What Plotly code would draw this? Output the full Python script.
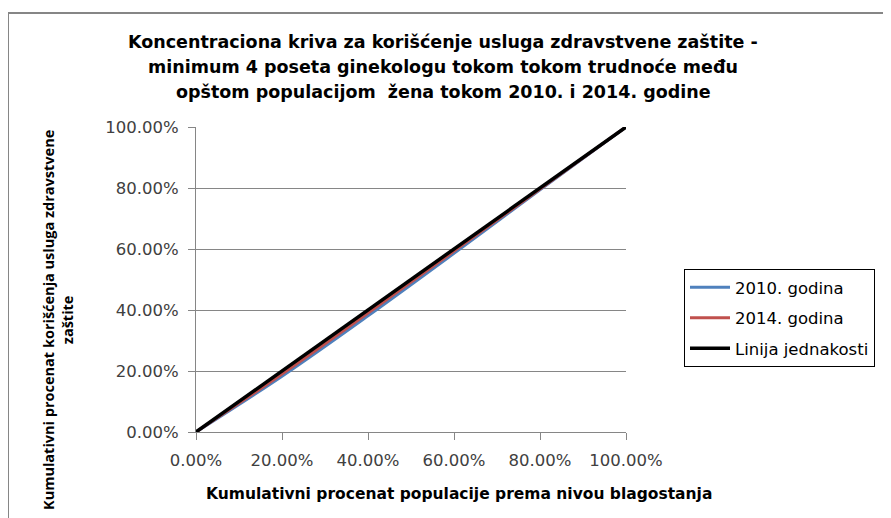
import plotly.graph_objects as go

# Data
populacija = [0.0, 0.2, 0.4, 0.6, 0.8, 1.0]
godina_2010 = [0.0, 0.183, 0.381, 0.586, 0.794, 1.0]
godina_2014 = [0.0, 0.190, 0.390, 0.593, 0.797, 1.0]
jednakost = [0.0, 0.2, 0.4, 0.6, 0.8, 1.0]
tick_vals = [0.0, 0.2, 0.4, 0.6, 0.8, 1.0]
tick_text = ["0.00%", "20.00%", "40.00%", "60.00%", "80.00%", "100.00%"]

W, H = 891, 518
OFF = 8  # page body margin
RL, RR, RT, RB = 196, 626, 127, 432  # plot area in reference pixels


def px(x):
    return (x - RL) / (RR - RL)


def py(y):
    return (RB - y) / (RB - RT)


TICKFONT = "'DejaVu Sans', sans-serif"
BOLDFONT = "'DejaVu Sans', sans-serif"

fig = go.Figure()
fig.add_trace(go.Scatter(x=populacija, y=godina_2010, mode="lines", name="2010. godina",
                         line=dict(color="#4F81BD", width=3, shape="spline"), legendgroup="a"))
fig.add_trace(go.Scatter(x=populacija, y=godina_2014, mode="lines", name="2014. godina",
                         line=dict(color="#C0504D", width=3, shape="spline"), legendgroup="b"))
fig.add_trace(go.Scatter(x=populacija, y=jednakost, mode="lines", name="Linija jednakosti",
                         line=dict(color="#000000", width=3.5), legendgroup="c"))

fig.update_layout(
    width=W, height=H,
    margin=dict(l=RL - OFF, r=W - (RR - OFF), t=RT - OFF, b=H - (RB - OFF), autoexpand=False),
    paper_bgcolor="white", plot_bgcolor="white",
    font=dict(family=TICKFONT, color="#404040", size=15),
    showlegend=True,
    legend=dict(x=px(684), y=py(269), xanchor="left", yanchor="top",
                bordercolor="#000000", borderwidth=1,
                font=dict(size=16.5, color="#000000", family=TICKFONT),
                tracegroupgap=6, itemwidth=40),
    xaxis=dict(range=[0, 1], tickvals=tick_vals, ticktext=tick_text,
               showgrid=False, zeroline=False, showline=True, linecolor="#868686", linewidth=1,
               ticks="outside", ticklen=7, tickcolor="#868686", ticklabelstandoff=6,
               tickfont=dict(size=16.5, color="#404040")),
    yaxis=dict(range=[0, 1], tickvals=tick_vals, ticktext=tick_text,
               showgrid=True, gridcolor="#868686", gridwidth=1, zeroline=False,
               showline=True, linecolor="#868686", linewidth=1,
               ticks="outside", ticklen=7, tickcolor="#868686", ticklabelstandoff=6,
               tickfont=dict(size=16.5, color="#404040")),
)

# Title (three lines)
title_lines = [
    "Koncentraciona kriva za korišćenje usluga zdravstvene zaštite -",
    "minimum 4 poseta ginekologu tokom tokom trudnoće među",
    "opštom populacijom  žena tokom 2010. i 2014. godine",
]
for i, line in enumerate(title_lines):
    fig.add_annotation(x=px(443), y=py(42 + 25 * i), xref="paper", yref="paper",
                       text="<b>" + line.replace("  ", "&nbsp; ") + "</b>",
                       showarrow=False, xanchor="center", yanchor="middle",
                       font=dict(size=17.5, color="#000000", family=BOLDFONT))
# X axis title
fig.add_annotation(x=px(459), y=py(494), xref="paper", yref="paper",
                   text="<b>Kumulativni procenat populacije prema nivou blagostanja</b>",
                   showarrow=False, xanchor="center", yanchor="middle",
                   font=dict(size=15.5, color="#000000", family=BOLDFONT))
# Y axis title
fig.add_annotation(x=px(58), y=py(320), xref="paper", yref="paper",
                   text="<b>Kumulativni procenat korišćenja usluga zdravstvene<br>zaštite</b>",
                   showarrow=False, xanchor="center", yanchor="middle", textangle=-90,
                   font=dict(size=14.5, color="#000000", family="'Open Sans', sans-serif"))

# Chart border (top and left visible)
fig.add_shape(type="line", xref="paper", yref="paper", x0=px(8), x1=px(900), y0=py(13), y1=py(13),
              line=dict(color="#868686", width=2))
fig.add_shape(type="line", xref="paper", yref="paper", x0=px(8), x1=px(8), y0=py(13), y1=py(530),
              line=dict(color="#868686", width=2))

fig.write_html("out.html")
